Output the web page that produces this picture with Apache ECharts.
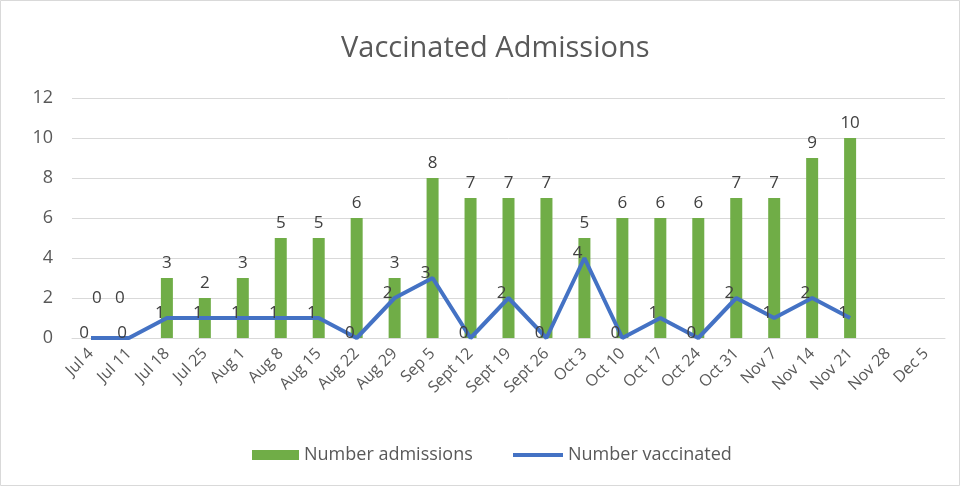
<!DOCTYPE html>
<html>
<head>
<meta charset="utf-8">
<script src="https://cdn.jsdelivr.net/npm/echarts@6/dist/echarts.min.js"></script>
<style>
html,body{margin:0;padding:0;background:#fff;}
#c{width:961px;height:487px;}
</style>
</head>
<body>
<div id="c"></div>
<script>
const categories = ["Jul 4","Jul 11","Jul 18","Jul 25","Aug 1","Aug 8","Aug 15","Aug 22","Aug 29","Sep 5","Sept 12","Sept 19","Sept 26","Oct 3","Oct 10","Oct 17","Oct 24","Oct 31","Nov 7","Nov 14","Nov 21","Nov 28","Dec 5"];
const admissions = [0,0,3,2,3,5,5,6,3,8,7,7,7,5,6,6,6,7,7,9,10,null,null];
const vaccinated = [0,0,1,1,1,1,1,0,2,3,0,2,0,4,0,1,0,2,1,2,1,null,null];
const yTicks = [0,2,4,6,8,10,12];

const FONT = '"Open Sans", "Noto Sans", sans-serif';
const barData = admissions.map((v, i) => {
  if (v === 0) {
    return {value: v, label: {offset: [i === 0 ? 6 : -9, -25]}};
  }
  return v;
});

const chart = echarts.init(document.getElementById('c'), null, {renderer: 'canvas'});
chart.setOption({
  animation: false,
  backgroundColor: '#fff',
  title: {
    text: 'Vaccinated Admissions',
    left: 336,
    top: 29,
    textStyle: {color: '#595959', fontSize: 29, fontWeight: 'normal', fontFamily: FONT}
  },
  legend: [
    {
      left: 247,
      top: 441,
      itemWidth: 47,
      itemHeight: 10,
      textStyle: {color: '#595959', fontSize: 18, fontFamily: FONT},
      data: [{name: 'Number admissions', icon: 'rect'}]
    },
    {
      left: 508,
      top: 441,
      itemWidth: 50,
      itemHeight: 4,
      textStyle: {color: '#595959', fontSize: 18, fontFamily: FONT},
      data: [{name: 'Number vaccinated', icon: 'rect'}]
    }
  ],
  grid: {left: 72, right: 16, top: 98, bottom: 149},
  xAxis: {
    type: 'category',
    data: categories,
    axisLine: {show: true, lineStyle: {color: '#d9d9d9', width: 1}},
    axisTick: {show: false},
    axisLabel: {rotate: 45, color: '#595959', fontSize: 16, fontFamily: FONT, interval: 0, margin: 13}
  },
  yAxis: {
    type: 'value',
    min: yTicks[0],
    max: yTicks[yTicks.length - 1],
    interval: 2,
    axisLine: {show: false},
    axisTick: {show: false},
    splitLine: {lineStyle: {color: '#d9d9d9', width: 1}},
    axisLabel: {color: '#595959', fontSize: 18, fontFamily: FONT, margin: 19}
  },
  series: [
    {
      name: 'Number admissions',
      type: 'bar',
      data: barData,
      barWidth: 12,
      itemStyle: {color: '#70AD47'},
      label: {show: true, position: 'top', distance: 6, color: '#404040', fontSize: 17, fontFamily: FONT}
    },
    {
      name: 'Number vaccinated',
      type: 'line',
      data: vaccinated,
      symbol: 'circle',
      symbolSize: 0.1,
      showSymbol: true,
      lineStyle: {color: '#4472C4', width: 4},
      itemStyle: {color: '#4472C4'},
      label: {show: true, position: 'left', distance: 2, offset: [0, -5], color: '#404040', fontSize: 17, fontFamily: FONT},
      z: 3
    }
  ],
  graphic: [
    {type: 'rect', shape: {x: 0.5, y: 0.5, width: 959, height: 485}, style: {fill: 'none', stroke: '#d9d9d9', lineWidth: 1}, silent: true}
  ]
});
</script>
</body>
</html>
